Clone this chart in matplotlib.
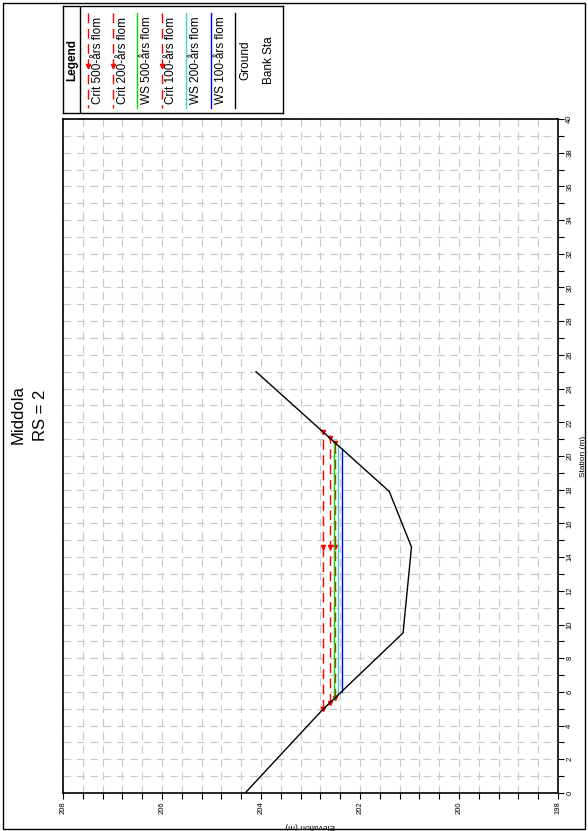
import numpy as np
import matplotlib
matplotlib.use("Agg")
import matplotlib.pyplot as plt
from matplotlib.patches import Rectangle
from matplotlib.ticker import MultipleLocator, FormatStrFormatter

plt.rcParams['font.family'] = ['Liberation Sans', 'DejaVu Sans']

# cross section RS = 2, ground profile
ground_station = [0.0, 4.9, 9.5, 14.6, 17.9, 25.0]
ground_elev = [204.32, 202.77, 201.13, 200.96, 201.41, 204.10]

# water levels per flood profile (500, 200, 100 year)
crit_elev = [202.75, 202.61, 202.50]
ws_elev = [202.52, 202.44, 202.37]
crit_labels = ["Crit 500-års flom", "Crit 200-års flom", "Crit 100-års flom"]
ws_labels = ["WS 500-års flom", "WS 200-års flom", "WS 100-års flom"]
ws_colors = ["#00e000", "#40d0d0", "#0000ff"]

elev_ticks = [198, 200, 202, 204, 206, 208]
station_ticks = list(range(0, 41, 2))


def wet_extent(e):
    # where a level meets the ground on each side of the channel
    i = int(np.argmin(ground_elev))
    left = np.interp(e, ground_elev[:i + 1][::-1], ground_station[:i + 1][::-1])
    right = np.interp(e, ground_elev[i:], ground_station[i:])
    return left, ground_station[i], right


fig = plt.figure(figsize=(5.88, 8.31), dpi=100)

# page is printed in landscape, so everything is turned a quarter turn:
# elevation runs along the horizontal (high on the left), station upward
ax = fig.add_axes([63 / 588, 38 / 831, 495 / 588, 674 / 831])
ax.set_xlim(208, 198)
ax.set_ylim(0, 40)
ax.set_axisbelow(True)

styles = {}
for e, lab in zip(crit_elev, crit_labels):
    l, m, r = wet_extent(e)
    st = dict(color="red", lw=1, dashes=(7, 4), marker="v", ms=3)
    ax.plot([e, e, e], [l, m, r], **st)
    styles[lab] = st
for e, lab, c in zip(ws_elev, ws_labels, ws_colors):
    l, m, r = wet_extent(e)
    st = dict(color=c, lw=1)
    ax.plot([e, e], [l, r], **st)
    styles[lab] = st
styles["Ground"] = dict(color="black", lw=1)
ax.plot(ground_elev, ground_station, **styles["Ground"])

ax.set_xticks(elev_ticks)
ax.set_yticks(station_ticks)
ax.xaxis.set_minor_locator(MultipleLocator(0.4))
ax.yaxis.set_minor_locator(MultipleLocator(1))
ax.xaxis.set_major_formatter(FormatStrFormatter("%d"))
ax.yaxis.tick_right()
ax.yaxis.set_label_position("right")
ax.tick_params(which="both", direction="out", length=4, width=0.8, labelsize=5.5, pad=2)
ax.tick_params(axis="x", labelrotation=90)
ax.tick_params(axis="y", labelrotation=90)
for lbl in ax.get_yticklabels():
    lbl.set_va("center")
ax.grid(which="both", color="#c8c8c8", lw=0.8, linestyle=(0, (7, 5)))
for s in ax.spines.values():
    s.set_linewidth(1.2)

ax.set_xlabel("Elevation (m)", fontsize=6, rotation=180, labelpad=6)
ax.set_ylabel("Station (m)", fontsize=6, rotation=90, labelpad=5)

# legend box, one column per entry
lg = fig.add_axes([63 / 588, 1 - 113 / 831, 220 / 588, 107 / 831])
lg.set_xlim(0, 220)
lg.set_ylim(107, 0)
lg.set_xticks([])
lg.set_yticks([])
for s in lg.spines.values():
    s.set_linewidth(1)
lg.axvline(17, color="black", lw=1)
lg.text(9, 54, "Legend", rotation=90, fontsize=8.5, fontweight="bold",
        ha="center", va="center")

entries = [crit_labels[0], crit_labels[1], ws_labels[0], crit_labels[2],
           ws_labels[1], ws_labels[2], "Ground", "Bank Sta"]
for k, lab in enumerate(entries):
    x = 25 + k * 24.5
    if lab in styles:
        st = dict(styles[lab])
        if "marker" in st:
            st["markevery"] = [1]
        lg.plot([x, x, x], [7, 60, 102], **st)
    lg.text(x + 10, 54, lab, rotation=90, fontsize=8.5, ha="center", va="center")

fig.text(18 / 588, 1 - 415 / 831, "Middola", rotation=90, fontsize=12,
         ha="center", va="center")
fig.text(40 / 588, 1 - 415 / 831, "RS = 2", rotation=90, fontsize=12,
         ha="center", va="center")

fig.add_artist(Rectangle((3 / 588, 2 / 831), 582 / 588, 826 / 831,
                         transform=fig.transFigure, fill=False, lw=1, color="black"))

fig.savefig("out.png", dpi=100)
